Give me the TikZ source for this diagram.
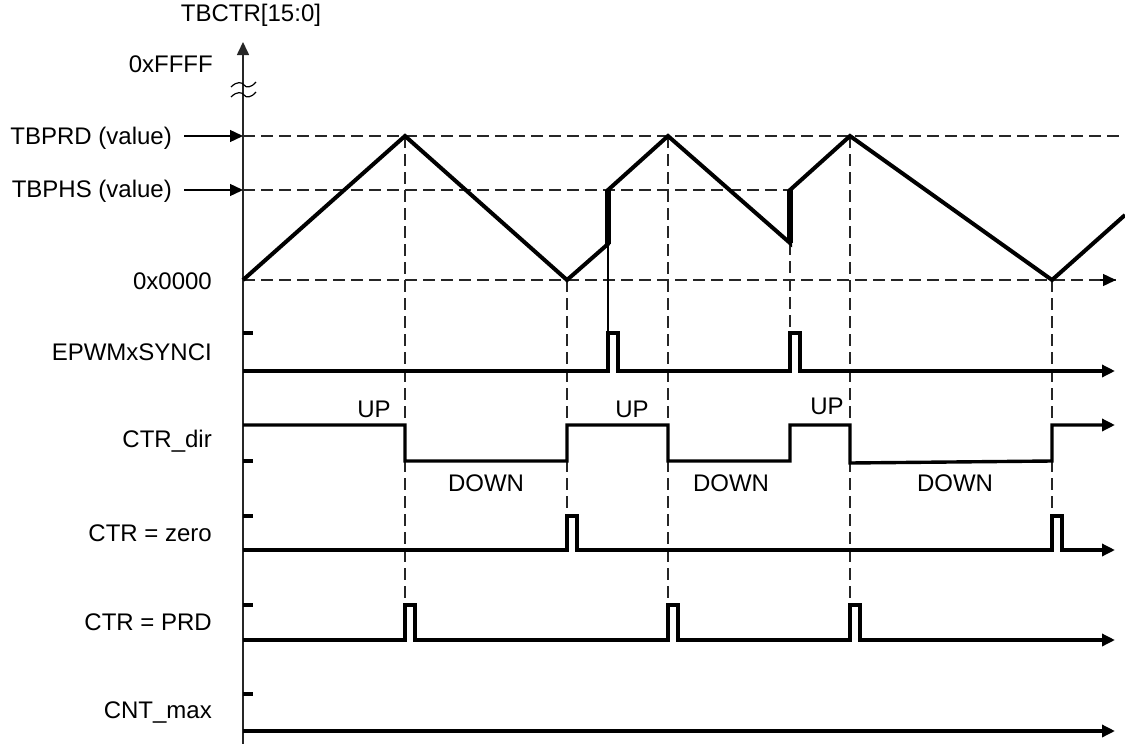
\documentclass[tikz,border=0pt]{standalone}
\usepackage{fontspec}
\setmainfont{Liberation Sans}
\usetikzlibrary{arrows.meta}
\tikzset{
  lbl/.style={font=\fontsize{24}{28}\selectfont, inner sep=0pt},
  rlbl/.style={lbl, anchor=east},
  axisline/.style={line width=1.6pt, draw=black!85},
  guide/.style={line width=1.4pt, dash pattern=on 12pt off 6pt, draw=black!85},
  wave/.style={line width=4pt, line join=miter},
  sig/.style={line width=3.4pt},
  tick/.style={line width=3.4pt},
  tip/.style={-{Triangle[length=13pt,width=12pt]}},
}
\begin{document}
\begin{tikzpicture}[x=1pt,y=-1pt]
\useasboundingbox (0,0) rectangle (1125,744);

% axis
\coordinate (ax0) at (243,744);
\coordinate (axtop) at (243,42);
\draw[axisline,tip] (ax0) -- (axtop);
\node[lbl] (tbctr) at (251,15) {TBCTR[15:0]};
% break symbol
\draw[line width=1.2pt] (231,87) .. controls (237,81) and (242,82) .. (244,85) .. controls (246,88) and (251,88) .. (256,82);
\draw[line width=1.2pt] (231,97) .. controls (237,91) and (242,92) .. (244,95) .. controls (246,98) and (251,98) .. (256,92);

% level labels
\node[rlbl] (ffff) at (213,64) {0xFFFF};
\node[rlbl] (prdl) at (172,138) {TBPRD (value)};
\node[rlbl] (phsl) at (172,191) {TBPHS (value)};
\node[rlbl] (zerol) at (212,281) {0x0000};
\coordinate (prdax) at (243,136);
\coordinate (phsax) at (243,190);
\coordinate (zeroax) at (243,280);
\coordinate (prdfrom) at (184,136);
\coordinate (phsfrom) at (184,190);
\draw[line width=1.4pt,tip] (prdfrom) -- (prdax);
\draw[line width=1.4pt,tip] (phsfrom) -- (phsax);

% waveform points
\coordinate (p0) at (243,280);
\coordinate (p1) at (405,136);
\coordinate (p2) at (567,280);
\coordinate (p3) at (608,244);
\coordinate (p4) at (608,190);
\coordinate (p5) at (668,136);
\coordinate (p6) at (790,243);
\coordinate (p7) at (790,190);
\coordinate (p8) at (850,136);
\coordinate (p9) at (1052,280);
\coordinate (p10) at (1125,215);

% horizontal guides
\coordinate (prdend) at (1125,136);
\coordinate (zeroend) at (1116,280);
\draw[guide] (prdax) -- (prdend);
\draw[guide] (phsax) -- (p7);
\draw[guide] (zeroax) -- (zeroend);
\draw[tip,line width=1.4pt] (1100,280) -- (zeroend);

% vertical guides
\coordinate (v1) at (405,605);
\coordinate (v2) at (567,516);
\coordinate (v3) at (608,333);
\coordinate (v5) at (668,605);
\coordinate (v6) at (790,333);
\coordinate (v8) at (850,605);
\coordinate (v9) at (1052,516);
\draw[guide] (p1) -- (v1);
\draw[guide] (p2) -- (v2);
\draw[line width=1.1pt] (p3) -- (v3);
\draw[guide] (p5) -- (v5);
\draw[guide] (p6) -- (v6);
\draw[guide] (p8) -- (v8);
\draw[guide] (p9) -- (v9);

% waveform
\draw[wave] (p0) -- (p1) -- (p2) -- (p3) -- (p4) -- (p5) -- (p6) -- (p7) -- (p8) -- (p9) -- (p10);
\draw[line width=5.5pt] (p3) -- (p4);
\draw[line width=5.5pt] (p6) -- (p7);

% signal labels
\node[rlbl] (synl) at (212,352) {EPWMxSYNCI};
\node[rlbl] (dirl) at (212,441) {CTR\_dir};
\node[rlbl] (zrl) at (212,533) {CTR = zero};
\node[rlbl] (pdl) at (212,622) {CTR = PRD};
\node[rlbl] (cml) at (212,712) {CNT\_max};

% ticks
\foreach \yy in {333,461,516,605,694} \draw[tick] (243,\yy) -- (253,\yy);

% EPWMxSYNCI
\draw[sig,tip] (243,371) -- (608,371) -- (608,333) -- (618,333) -- (618,371) -- (790,371) -- (790,333) -- (800,333) -- (800,371) -- (1115,371);
% CTR_dir
\draw[sig,tip] (243,425) -- (405,425) -- (405,461) -- (567,461) -- (567,425) -- (668,425) -- (668,461) -- (790,461) -- (790,425) -- (850,425) -- (850,463) -- (1052,461) -- (1052,425) -- (1115,425);
% CTR = zero
\draw[sig,tip] (243,550) -- (567,550) -- (567,516) -- (577,516) -- (577,550) -- (1052,550) -- (1052,516) -- (1062,516) -- (1062,550) -- (1115,550);
% CTR = PRD
\draw[sig,tip] (243,640) -- (405,640) -- (405,605) -- (415,605) -- (415,640) -- (668,640) -- (668,605) -- (678,605) -- (678,640) -- (850,640) -- (850,605) -- (860,605) -- (860,640) -- (1115,640);
% CNT_max
\draw[sig,tip] (243,731) -- (1115,731);

% direction labels
\node[lbl] (up1) at (374,409) {UP};
\node[lbl] (dn1) at (486,483) {DOWN};
\node[lbl] (up2) at (632,409) {UP};
\node[lbl] (dn2) at (731,483) {DOWN};
\node[lbl] (up3) at (827,406) {UP};
\node[lbl] (dn3) at (955,483) {DOWN};
\end{tikzpicture}
\end{document}
